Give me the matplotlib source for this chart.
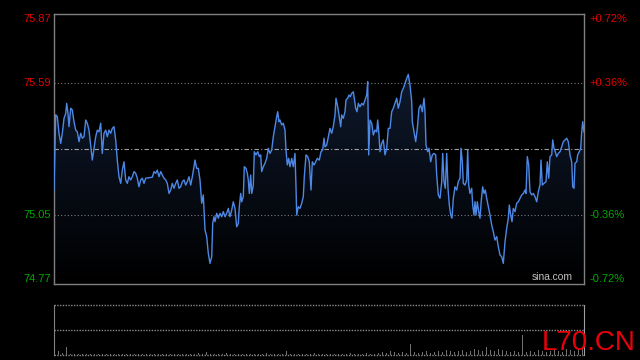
import numpy as np
import matplotlib
matplotlib.use("Agg")
import matplotlib.pyplot as plt
from matplotlib.patches import Polygon
from matplotlib.colors import LinearSegmentedColormap

prev_close = 75.32
price_min, price_max = 74.77, 75.87
session_len = 530

minutes = [
    0, 1.7, 3.3, 5, 6.7, 8.3, 10, 11.7, 12.7, 14, 15, 16.7, 18.3, 20, 21.7, 23.3,
    25, 26.7, 28.3, 30, 31.7, 33.3, 35, 36.7, 38.3, 40, 41.7, 43.3, 45, 46.7, 48.3,
    50, 51.7, 53.3, 55, 56.7, 58.3, 60, 61.7, 63.3, 65, 66.7, 68.3, 70, 71.7, 73.3,
    75, 76.7, 78.3, 80, 81.7, 83.3, 85, 86.7, 88.3, 90, 91.7, 95, 98.3, 100, 101.7,
    103.3, 105, 106.7, 108.3, 110, 111.7, 113.3, 115, 116.7, 118.3, 120, 121.7,
    123.3, 125, 126.7, 128.3, 130, 131.7, 133.3, 135, 136.7, 138.3, 140, 141,
    142.7, 144.3, 146, 147.7, 149.3, 151, 152.7, 154.3, 156, 157.7, 158.7, 160,
    161, 162.7, 164.3, 166, 167.7, 169.3, 171, 172.7, 174.3, 176, 177.7, 179.3,
    181, 182.7, 184.3, 185.3, 186.7, 187.7, 189.3, 190.3, 192, 193.3, 194.3,
    195.3, 196.7, 197.7, 199.3, 200.3, 202, 203.7, 205.3, 206.7, 207.7, 209.3,
    211, 212.7, 214.3, 216, 217.7, 219.3, 221, 222.7, 223.7, 225, 226, 227.7,
    229.3, 231, 232, 233.3, 234.7, 236, 237.7, 239.3, 241, 242, 242.7, 244.3,
    246, 247.7, 249.3, 250.3, 252, 253.7, 255.3, 257, 258.3, 260, 261.7, 263.3,
    265.3, 267, 268.7, 270, 271, 272.7, 274.3, 276, 277.7, 279.3, 281, 282,
    283.7, 285, 286.7, 287.7, 289.3, 291, 292, 293.7, 295, 296.3, 297.7, 299.3,
    300.3, 301.7, 303, 304.3, 306, 307.7, 309.3, 311, 312.7, 313.7, 314.7, 316,
    317.7, 319.3, 321, 322.7, 323.7, 325, 326, 327.7, 329.3, 331, 332.7, 334.3,
    336, 337.7, 339.3, 341, 342.7, 344.3, 346, 347.7, 349.3, 351, 352.7, 354.3,
    356, 357.7, 358.3, 360, 361.7, 363.3, 365, 366.7, 368.3, 370, 371, 372,
    373.7, 375, 376.7, 378.3, 380, 381.7, 382.7, 384.3, 386, 387.7, 388.7, 390,
    391.3, 392.7, 394, 395.3, 396.7, 398, 399.3, 401, 402.7, 404.3, 406, 407,
    408.3, 409.3, 411, 412.7, 413.7, 414.7, 416, 417.7, 418.7, 420, 421, 422,
    423.3, 424.7, 426, 427.3, 428.7, 430, 431.3, 432.7, 434.3, 436, 437.7, 439.3,
    441, 442.7, 444.3, 446, 447.7, 449.3, 451, 452.7, 454.3, 455.3, 456.7, 458,
    459.3, 461, 462.7, 464.3, 466, 467.7, 469.3, 471, 472, 473.3, 474.7, 476,
    477.7, 479.3, 481, 482.7, 484.3, 486, 487, 488.3, 490, 492, 493.3, 494.7,
    496, 497.7, 498.7, 500, 501.3, 502.7, 504.3, 506, 507.7, 509.3, 511, 512.7,
    514.3, 516, 517.7, 518.7, 520, 521, 522.7, 523.7, 525.3, 526.7, 527.7, 528.7,
    530,
]

prices = [
    75.153, 75.459, 75.452, 75.384, 75.343, 75.384, 75.445, 75.465, 75.506, 75.465,
    75.411, 75.486, 75.479, 75.431, 75.397, 75.390, 75.350, 75.384, 75.364, 75.370,
    75.438, 75.425, 75.397, 75.336, 75.275, 75.323, 75.370, 75.397, 75.390, 75.425,
    75.302, 75.384, 75.397, 75.370, 75.397, 75.384, 75.404, 75.411, 75.357, 75.275,
    75.207, 75.180, 75.234, 75.268, 75.194, 75.180, 75.207, 75.194, 75.207, 75.228,
    75.221, 75.201, 75.166, 75.194, 75.201, 75.180, 75.201, 75.203, 75.205, 75.228,
    75.221, 75.234, 75.207, 75.228, 75.214, 75.201, 75.194, 75.180, 75.139, 75.153,
    75.180, 75.160, 75.180, 75.194, 75.160, 75.166, 75.187, 75.194, 75.173, 75.187,
    75.207, 75.173, 75.207, 75.248, 75.275, 75.241, 75.241, 75.194, 75.099, 75.133,
    74.990, 74.963, 74.895, 74.854, 74.881, 75.017, 75.044, 75.024, 75.058, 75.038,
    75.058, 75.044, 75.065, 75.044, 75.058, 75.078, 75.044, 75.071, 75.105, 75.078,
    75.003, 75.017, 75.085, 75.139, 75.105, 75.126, 75.248, 75.241, 75.221, 75.194,
    75.139, 75.214, 75.139, 75.173, 75.309, 75.296, 75.309, 75.289, 75.296, 75.228,
    75.248, 75.262, 75.282, 75.323, 75.302, 75.316, 75.370, 75.411, 75.452, 75.472,
    75.431, 75.438, 75.418, 75.425, 75.397, 75.316, 75.255, 75.282, 75.248, 75.282,
    75.248, 75.302, 75.166, 75.051, 75.085, 75.078, 75.099, 75.126, 75.207, 75.296,
    75.289, 75.268, 75.153, 75.268, 75.255, 75.268, 75.282, 75.275, 75.309, 75.316,
    75.364, 75.329, 75.336, 75.370, 75.404, 75.384, 75.411, 75.459, 75.527, 75.492,
    75.459, 75.411, 75.459, 75.445, 75.472, 75.520, 75.527, 75.540, 75.533, 75.547,
    75.553, 75.527, 75.486, 75.472, 75.506, 75.492, 75.506, 75.499, 75.520, 75.540,
    75.594, 75.296, 75.438, 75.425, 75.377, 75.397, 75.390, 75.438, 75.377, 75.309,
    75.343, 75.357, 75.296, 75.323, 75.404, 75.404, 75.472, 75.486, 75.506, 75.527,
    75.486, 75.513, 75.553, 75.567, 75.588, 75.608, 75.624, 75.581, 75.513, 75.431,
    75.390, 75.350, 75.404, 75.486, 75.499, 75.472, 75.527, 75.472, 75.336, 75.309,
    75.323, 75.268, 75.296, 75.302, 75.296, 75.214, 75.133, 75.119, 75.187, 75.302,
    75.187, 75.160, 75.302, 75.160, 75.092, 75.051, 75.038, 75.119, 75.166, 75.153,
    75.187, 75.201, 75.323, 75.268, 75.180, 75.173, 75.194, 75.316, 75.173, 75.139,
    75.160, 75.092, 75.051, 75.105, 75.051, 75.105, 75.065, 75.038, 75.112, 75.166,
    75.139, 75.153, 75.119, 75.085, 75.051, 75.010, 74.983, 74.949, 74.963, 74.922,
    74.888, 74.881, 74.854, 74.942, 74.997, 75.038, 75.092, 75.051, 75.024, 75.078,
    75.065, 75.099, 75.105, 75.119, 75.133, 75.139, 75.153, 75.139, 75.289, 75.255,
    75.146, 75.133, 75.139, 75.126, 75.105, 75.146, 75.173, 75.275, 75.173, 75.180,
    75.187, 75.268, 75.201, 75.289, 75.296, 75.357, 75.323, 75.309, 75.289, 75.302,
    75.309, 75.329, 75.350, 75.357, 75.364, 75.350, 75.296, 75.268, 75.166, 75.160,
    75.262, 75.268, 75.296, 75.309, 75.323, 75.390, 75.431, 75.390,
]

# volume bars, one reading every 4 minutes
vol_minutes = list(range(0, 532, 4))
volumes = [
    16, 8, 4, 16, 3, 2, 3, 2, 2, 3, 2, 2, 3, 2, 2, 3, 2, 2, 2, 3,
    2, 3, 2, 2, 3, 2, 2, 2, 3, 2, 2, 3, 2, 2, 3, 2, 4, 3, 6, 3,
    2, 3, 2, 4, 2, 3, 2, 3, 2, 2, 3, 2, 3, 4, 3, 2, 3, 2, 8, 3,
    2, 3, 2, 3, 2, 4, 2, 3, 2, 3, 2, 2, 3, 2, 4, 3, 2, 3, 4, 2,
    3, 4, 6, 4, 8, 6, 4, 6, 4, 22, 6, 4, 6, 8, 4, 6, 8, 6, 10, 8,
    6, 8, 10, 6, 8, 12, 10, 8, 16, 10, 8, 12, 10, 8, 6, 8, 6, 40, 6, 8,
    6, 10, 8, 6, 8, 10, 8, 6, 12, 10, 8, 12, 16,
]

left_values = [75.87, 75.59, 75.05, 74.77]
left_labels = ["75.87", "75.59", "75.05", "74.77"]
right_labels = ["+0.72%", "+0.36%", "-0.36%", "-0.72%"]

RED = "#e60000"
GREEN = "#00a800"
FRAME = "#808080"
FONT = ["Liberation Sans", "DejaVu Sans"]

fig = plt.figure(figsize=(6.4, 3.6), dpi=100, facecolor="black")

# price panel
ax = fig.add_axes([54 / 640, 76 / 360, 530 / 640, 270 / 360])
ax.set_facecolor("black")
ax.set_xlim(0, session_len)
ax.set_ylim(price_min, price_max)
ax.set_xticks([])
ax.set_yticks([])
for s in ax.spines.values():
    s.set_color(FRAME)
    s.set_linewidth(1)

grad = np.linspace(1, 0, 256).reshape(-1, 1)
cmap = LinearSegmentedColormap.from_list("fill", ["#000000", "#13213a"])
im = ax.imshow(grad, extent=[0, session_len, price_min, price_max], aspect="auto",
               cmap=cmap, origin="upper", zorder=1)
pts = np.column_stack([minutes + [session_len, 0], prices + [price_min, price_min]])
clip = Polygon(pts, closed=True, transform=ax.transData, facecolor="none", edgecolor="none")
ax.add_patch(clip)
im.set_clip_path(clip)

ax.axhline(75.59, color="#7a7a7a", lw=0.8, ls=(0, (1, 2)), zorder=2)
ax.axhline(75.05, color="#7a7a7a", lw=0.8, ls=(0, (1, 2)), zorder=2)
ax.axhline(prev_close, color="#a0a0a0", lw=0.8, ls=(0, (4, 2, 1, 2)), zorder=2)

ax.plot(minutes, prices, color="#4d88e6", lw=1.0, zorder=3)

vas = ["top", "center", "center", "bottom"]
for i, v in enumerate(left_values):
    col = RED if v > prev_close else GREEN
    ax.text(-0.006, v, left_labels[i], transform=ax.get_yaxis_transform(), ha="right",
            va=vas[i], color=col, fontsize=8, family=FONT)
    ax.text(1.011, v, right_labels[i], transform=ax.get_yaxis_transform(), ha="left",
            va=vas[i], color=col, fontsize=8, family=FONT)

ax.text(0.979, 0.008, "sina.com", transform=ax.transAxes, ha="right", va="bottom",
        color="#c0c0c0", fontsize=7.4, family=FONT)

# volume panel
ax2 = fig.add_axes([54 / 640, 5 / 360, 530 / 640, 50 / 360])
ax2.set_facecolor("black")
ax2.set_xlim(0, session_len)
ax2.set_ylim(0, 100)
ax2.set_xticks([])
ax2.set_yticks([])
ax2.spines["top"].set_visible(False)
ax2.spines["bottom"].set_visible(False)
ax2.spines["left"].set_color(FRAME)
ax2.spines["right"].set_color("#a0a0a0")
ax2.bar(vol_minutes, volumes, width=1.0, color="#707070", zorder=2)
for yv in [100, 50, 0]:
    ax2.axhline(yv, color="#8a8a8a", lw=1.0, ls=(0, (1, 1)), clip_on=False, zorder=3)

fig.text(636 / 640, 10 / 360, "L70.CN", ha="right", va="baseline", color="#e8000b",
         fontsize=20, family=FONT)

fig.savefig("out.png", dpi=100, facecolor="black")
